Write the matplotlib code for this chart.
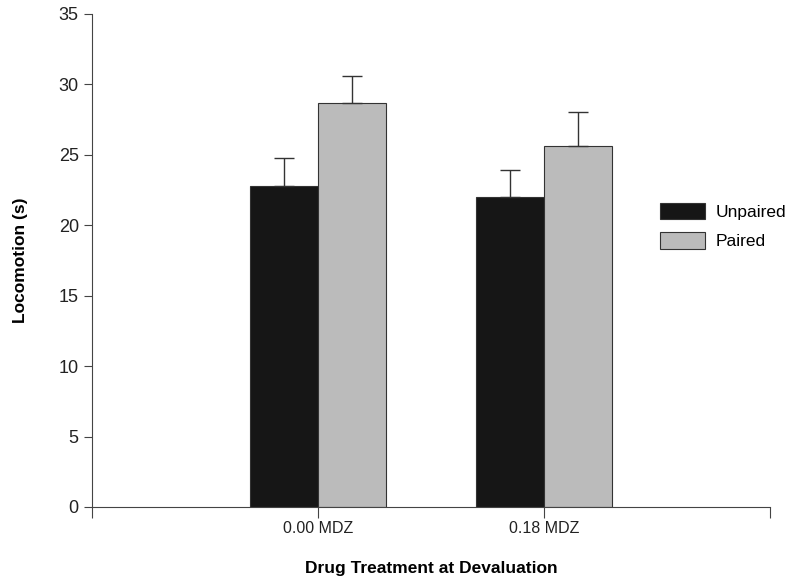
import matplotlib
matplotlib.use("Agg")
import matplotlib.pyplot as plt
import numpy as np

plt.rcParams['font.family'] = ['Liberation Sans', 'DejaVu Sans']

# data
groups = ['0.00 MDZ', '0.18 MDZ']
unpaired = [22.8, 22.0]
unpaired_err = [1.95, 1.95]
paired = [28.65, 25.65]
paired_err = [1.95, 2.4]

fig = plt.figure(figsize=(8, 5.82), dpi=100)
ax = fig.add_axes([0.115, 0.129, 0.8475, 0.847])

x = np.arange(1, len(groups) + 1)
w = 0.3
ax.bar(x - w / 2, unpaired, w, color='#161616', edgecolor='#333333', linewidth=0.8,
       yerr=[np.zeros(len(unpaired)), unpaired_err], capsize=7,
       error_kw=dict(ecolor='#333333', elinewidth=1, capthick=1), label='Unpaired')
ax.bar(x + w / 2, paired, w, color='#bbbbbb', edgecolor='#333333', linewidth=0.8,
       yerr=[np.zeros(len(paired)), paired_err], capsize=7,
       error_kw=dict(ecolor='#333333', elinewidth=1, capthick=1), label='Paired')

ax.set_xlim(0, 3)
ax.set_ylim(0, 35)
ax.set_xticks([0, 1, 2, 3])
ax.set_xticklabels([''] + groups + [''], fontsize=11.5)
ax.set_yticks(range(0, 36, 5))
ax.tick_params(axis='y', labelsize=13, length=6, color='#444444', labelcolor='#222222')
ax.tick_params(axis='x', length=8, color='#444444', pad=2, labelcolor='#222222')

for s in ['top', 'right']:
    ax.spines[s].set_visible(False)
for s in ['left', 'bottom']:
    ax.spines[s].set_color('#444444')

ax.set_ylabel('Locomotion (s)', fontsize=12.5, fontweight='bold', labelpad=22)
ax.set_xlabel('Drug Treatment at Devaluation', fontsize=12.5, fontweight='bold', va='center')
ax.xaxis.set_label_coords(0.5, -0.124)

ax.legend(loc='center left', bbox_to_anchor=(0.815, 0.57), frameon=False, fontsize=12.5,
          handlelength=2.6, handleheight=1.1, handletextpad=0.6, labelspacing=0.7)

fig.savefig('out.png', dpi=100)
